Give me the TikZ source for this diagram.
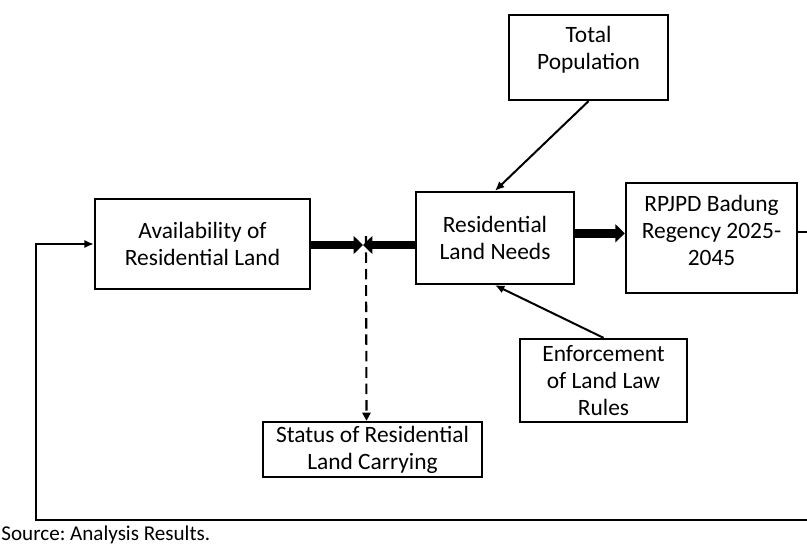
\documentclass[tikz,border=0pt]{standalone}
\usepackage{fontspec}
\setmainfont{Carlito}
\usepackage{tikz}
\usetikzlibrary{arrows.meta}

\tikzset{
  box/.style={draw, line width=2pt, align=center, inner sep=1pt,
    font=\fontsize{20}{23}\selectfont},
  thickarrow/.style={line width=7.5pt, -{Triangle[length=8pt,width=15pt]}},
  thinarrow/.style={line width=1.7pt, -{Latex[length=8pt,width=7pt]}}
}

\begin{document}
\frenchspacing
\begin{tikzpicture}[x=0.03cm, y=-0.03cm]
    \useasboundingbox (0,0) rectangle (807,546);% same frame as the figure
    \coordinate (Junction) at (363,245);
    \coordinate (LoopRight) at (815,520);
    \coordinate (LoopLeft)  at (36,520);

    \node[box, minimum width=4.77cm, minimum height=2.55cm] (total) at (588.5,57.5) {Total\\Population\\[-7pt]};
    \node[box, minimum width=6.45cm, minimum height=2.7cm] (avail) at (202.5,244) {Availability of\\Residential Land};
    \node[box, minimum width=4.74cm, minimum height=2.76cm] (needs) at (495,238) {Residential\\Land Needs};
    \node[box, minimum width=5.13cm, minimum height=3.3cm] (rpjpd) at (711.5,238) {RPJPD Badung\\Regency 2025-\\2045\\[-10pt]};
    \node[box, minimum width=5.01cm, minimum height=2.49cm] (enforce) at (603.5,380.5) {Enforcement\\of Land Law\\Rules};
    \node[box, minimum width=6.57cm, minimum height=1.65cm] (status) at (372.5,449.5) {Status of Residential\\Land Carrying};

    % thick arrows meeting in the middle
    \draw[thickarrow] (avail.east |- Junction) -- (Junction);
    \draw[thickarrow] (needs.west |- Junction) -- (Junction);
    \draw[thickarrow] ([yshift=4pt]needs.east) -- ([yshift=4pt]rpjpd.west);

    % inputs to the land needs
    \draw[thinarrow] (total.south) -- (needs.north);
    \draw[thinarrow] (enforce.north) -- (needs.south);

    % result of the balance
    \draw[line width=1.8pt, dash pattern=on 9pt off 5pt, -{Triangle[length=7pt,width=7pt]}]
      ([shift={(3,-9)}]Junction) -- ([xshift=3]Junction |- status.north);

    % feedback loop
    \draw[thinarrow] ([yshift=5pt]rpjpd.east) -| (LoopRight) -- (LoopLeft) |- (avail.west);

    \node[anchor=west, inner sep=1pt, font=\fontsize{18}{20}\selectfont] (source) at (0,535) {Source: Analysis Results.};
\end{tikzpicture}
\end{document}
